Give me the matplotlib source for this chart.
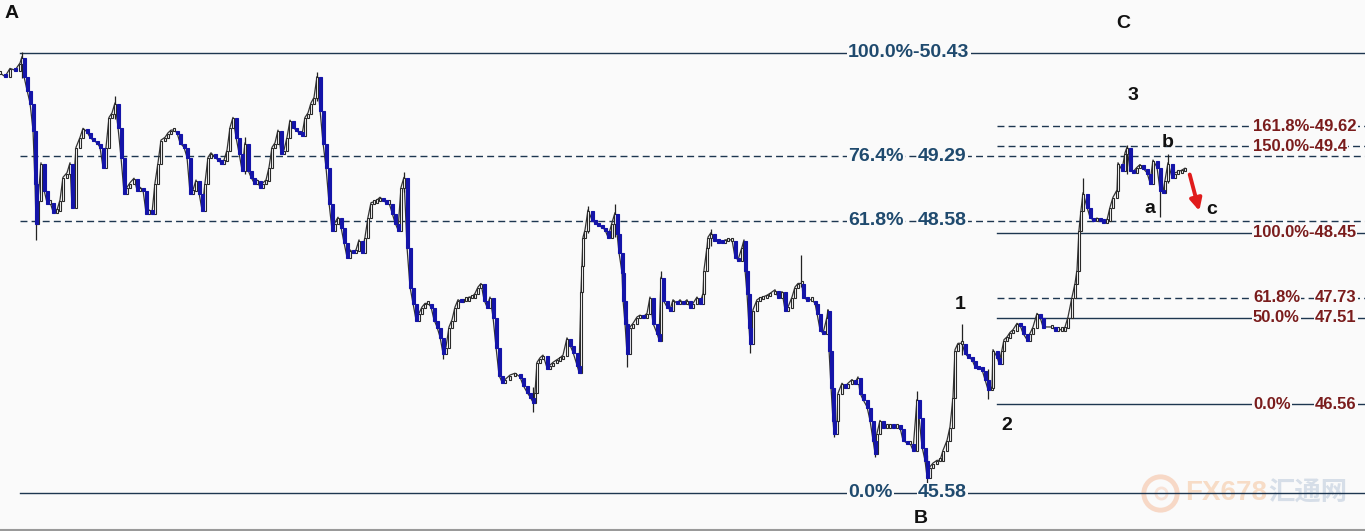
import matplotlib.pyplot as plt
import numpy as np

# bar time index (chart columns) and closing prices
t = [0, 5, 10, 15, 20, 22, 24, 27, 30, 33, 35, 36, 38, 41, 44, 47, 50, 53, 57, 60,
     63, 67, 70, 72, 76, 80, 83, 87, 90, 93, 97, 100, 103, 106, 109, 112, 115, 118, 121, 124,
     127, 130, 134, 137, 140, 143, 146, 149, 152, 155, 158, 161, 165, 168, 171, 174, 177, 180, 184, 187,
     190, 193, 196, 199, 202, 205, 208, 211, 215, 218, 221, 224, 227, 230, 233, 236, 239, 242, 245, 248,
     251, 254, 257, 260, 263, 266, 269, 272, 275, 278, 281, 284, 287, 290, 293, 296, 299, 302, 305, 308,
     311, 314, 317, 320, 323, 326, 329, 332, 335, 338, 341, 344, 347, 350, 353, 356, 359, 362, 365, 368,
     371, 374, 377, 380, 383, 386, 389, 392, 395, 398, 401, 404, 407, 410, 413, 416, 419, 422, 425, 428,
     431, 434, 437, 440, 443, 446, 449, 452, 455, 458, 461, 463, 466, 469, 472, 475, 478, 481, 484, 487,
     490, 493, 496, 499, 502, 505, 510, 515, 520, 523, 527, 530, 533, 535, 537, 540, 543, 547, 550, 553,
     557, 560, 563, 567, 570, 573, 577, 579, 581, 582, 583, 585, 588, 592, 595, 598, 602, 605, 608, 612,
     615, 617, 619, 622, 623, 625, 627, 630, 633, 637, 640, 643, 647, 650, 653, 657, 659, 661, 663, 667,
     670, 673, 677, 680, 683, 687, 690, 693, 697, 700, 703, 704, 707, 708, 711, 714, 718, 722, 725, 728,
     732, 735, 738, 742, 744, 745, 747, 749, 750, 753, 757, 760, 763, 767, 770, 775, 778, 782, 785, 788,
     792, 795, 798, 802, 803, 807, 812, 815, 817, 820, 823, 827, 828, 829, 831, 833, 834, 837, 838, 842,
     845, 848, 852, 855, 858, 860, 863, 867, 870, 873, 875, 877, 880, 883, 887, 890, 893, 897, 900, 903,
     907, 910, 913, 917, 919, 922, 925, 927, 930, 933, 937, 940, 943, 947, 950, 953, 955, 958, 962, 965,
     968, 972, 975, 978, 982, 985, 988, 992, 993, 997, 999, 1002, 1004, 1007, 1010, 1013, 1017, 1020, 1023, 1027,
     1030, 1033, 1037, 1040, 1043, 1052, 1055, 1058, 1062, 1065, 1068, 1072, 1075, 1077, 1079, 1081, 1083, 1087, 1090, 1093,
     1097, 1100, 1103, 1107, 1110, 1113, 1117, 1118, 1122, 1125, 1127, 1130, 1133, 1137, 1140, 1143, 1147, 1150, 1153, 1157,
     1160, 1163, 1165, 1168, 1172, 1175, 1178, 1182, 1185]

close = [50.21, 50.17, 50.26, 50.24, 50.32, 50.39, 50.17, 50.02, 49.88, 49.58, 49.00, 48.56, 48.81, 49.22, 48.92, 48.78, 48.79, 48.68, 48.70, 48.81,
         49.06, 49.11, 49.22, 48.73, 49.39, 49.50, 49.60, 49.56, 49.50, 49.47, 49.44, 49.39, 49.17, 49.39, 49.72, 49.77, 49.88, 49.61, 49.28, 48.89,
         48.95, 49.00, 49.05, 48.92, 48.95, 48.92, 48.67, 48.70, 48.67, 49.00, 49.22, 49.47, 49.50, 49.55, 49.58, 49.58, 49.55, 49.44, 49.39, 49.28,
         48.89, 48.92, 49.03, 48.89, 48.70, 49.00, 49.28, 49.33, 49.28, 49.25, 49.22, 49.25, 49.36, 49.61, 49.72, 49.50, 49.33, 49.14, 49.44, 49.14,
         49.06, 49.00, 49.03, 48.95, 49.00, 49.03, 49.17, 49.39, 49.44, 49.58, 49.33, 49.36, 49.50, 49.69, 49.61, 49.58, 49.55, 49.53, 49.72, 49.77,
         49.88, 49.94, 50.17, 49.80, 49.44, 49.17, 48.78, 48.48, 48.56, 48.62, 48.51, 48.34, 48.18, 48.26, 48.23, 48.26, 48.37, 48.23, 48.40, 48.62,
         48.78, 48.79, 48.81, 48.84, 48.81, 48.78, 48.78, 48.67, 48.56, 48.48, 48.95, 49.06, 48.29, 47.85, 47.67, 47.49, 47.56, 47.63, 47.67, 47.67,
         47.63, 47.49, 47.41, 47.30, 47.12, 47.19, 47.41, 47.49, 47.63, 47.71, 47.69, 47.71, 47.71, 47.74, 47.74, 47.78, 47.85, 47.89, 47.71, 47.63,
         47.74, 47.52, 47.19, 46.88, 46.80, 46.83, 46.88, 46.90, 46.86, 46.77, 46.69, 46.64, 46.58, 46.69, 47.02, 47.07, 47.10, 46.96, 46.99, 47.02,
         47.05, 47.07, 47.10, 47.29, 47.21, 47.13, 46.99, 46.91, 47.80, 48.09, 48.40, 48.48, 48.70, 48.59, 48.56, 48.53, 48.51, 48.48, 48.40, 48.56,
         48.67, 48.45, 48.23, 48.01, 47.71, 47.45, 47.12, 47.41, 47.45, 47.52, 47.54, 47.52, 47.56, 47.74, 47.45, 47.34, 47.27, 47.96, 47.71, 47.63,
         47.60, 47.71, 47.67, 47.71, 47.67, 47.71, 47.63, 47.67, 47.74, 47.67, 47.78, 48.04, 48.29, 48.40, 48.45, 48.37, 48.35, 48.34, 48.37, 48.37,
         48.37, 48.18, 48.15, 48.29, 48.37, 48.04, 47.78, 47.41, 47.23, 47.60, 47.71, 47.73, 47.74, 47.76, 47.78, 47.82, 47.74, 47.80, 47.60, 47.63,
         47.74, 47.85, 47.89, 47.89, 47.74, 47.71, 47.71, 47.67, 47.56, 47.38, 47.34, 47.52, 47.60, 47.16, 46.75, 46.38, 46.24, 46.38, 46.68, 46.79,
         46.75, 46.79, 46.83, 46.79, 46.86, 46.68, 46.61, 46.53, 46.38, 46.16, 46.02, 46.24, 46.38, 46.31, 46.31, 46.33, 46.31, 46.31, 46.30, 46.16,
         46.13, 46.13, 46.05, 46.61, 46.42, 46.09, 45.94, 45.76, 45.87, 45.91, 45.94, 45.94, 46.05, 46.16, 46.31, 46.64, 47.16, 47.23, 47.23, 47.12,
         47.08, 47.05, 46.97, 46.96, 46.94, 46.83, 46.72, 46.75, 47.16, 47.08, 47.01, 47.16, 47.27, 47.30, 47.35, 47.38, 47.45, 47.43, 47.34, 47.27,
         47.34, 47.41, 47.56, 47.52, 47.41, 47.41, 47.38, 47.38, 47.38, 47.41, 47.52, 47.74, 47.89, 48.04, 48.48, 48.70, 48.89, 48.73, 48.62, 48.59,
         48.61, 48.59, 48.57, 48.59, 48.73, 48.84, 48.92, 49.22, 49.14, 49.33, 49.39, 49.14, 49.12, 49.17, 49.20, 49.16, 49.11, 49.00, 49.25, 49.17,
         48.92, 48.90, 49.03, 49.22, 49.06, 49.11, 49.12, 49.14, 49.16]

# notable wicks (time, high, low)
wick_t = [22, 36, 115, 245, 317, 404, 443, 533, 588, 615, 627, 661, 711, 750, 801, 834, 875, 917, 927, 962, 988, 1083, 1127, 1160, 1168]
wick_hi = [50.44, 49.05, 49.96, 49.50, 50.22, 49.12, 47.25, 46.75, 48.74, 48.76, 47.50, 48.03, 48.49, 47.60, 48.20, 46.50, 46.30, 46.70, 46.00, 47.44, 46.95, 49.05, 49.42, 49.00, 49.32]
wick_lo = [50.15, 48.37, 49.70, 49.10, 49.90, 48.90, 47.06, 46.47, 48.45, 48.40, 46.97, 47.60, 48.30, 47.12, 47.85, 46.20, 45.98, 46.40, 45.69, 47.10, 46.62, 48.70, 49.10, 48.62, 49.00]

# Fibonacci levels: (label, price, dashed)
left_fib = [("100.0%", 50.43, False), ("76.4%", 49.29, True), ("61.8%", 48.58, True), ("0.0%", 45.58, False)]
right_fib = [("161.8%", 49.62, True), ("150.0%", 49.4, True), ("100.0%", 48.45, False),
             ("61.8%", 47.73, True), ("50.0%", 47.51, False), ("0.0%", 46.56, False)]
right_vals = ["49.62", "49.4", "48.45", "47.73", "47.51", "46.56"]

bg = "#fafafa"
navy = "#1d3650"
blue_lbl = "#1f4a6e"
red_lbl = "#7a1c1c"

fig = plt.figure(figsize=(13.65, 5.31), dpi=100, facecolor=bg)
ax = fig.add_axes([0, 0, 1, 1])
ax.set_facecolor(bg)
ax.set_xlim(0, 1365)
ax.set_ylim(45.161, 51.014)
ax.axis("off")

# fib lines
for name, lv, dashed in left_fib:
    ax.plot([20, 1365], [lv, lv], color=navy, lw=1.0, ls=(0, (5, 3)) if dashed else "-", zorder=1)
for name, lv, dashed in right_fib:
    ax.plot([997, 1365], [lv, lv], color=navy, lw=1.0, ls=(0, (5, 3)) if dashed else "-", zorder=1)

# candles: open = previous close
t = np.array(t)
close = np.array(close)
opn = np.concatenate([[close[0]], close[:-1]])
down = close < opn
up = ~down
lo = np.minimum(opn, close)
hgt = np.maximum(np.abs(close - opn), 0.035)

ax.plot(t, close, color="#333333", lw=0.9, zorder=2)
ax.vlines(wick_t, wick_lo, wick_hi, color="#222222", lw=0.9, zorder=2)
ax.bar(t[up], hgt[up], bottom=lo[up] - 0.01, width=2.6, color="white",
       edgecolor="#2a2a2a", lw=0.8, zorder=3)
ax.bar(t[down], hgt[down], bottom=lo[down] - 0.01, width=3.0, color="#1414a8",
       edgecolor="#1414a8", lw=0.8, zorder=4)

# fib labels
box = dict(facecolor=bg, edgecolor="none", pad=1.0)
fnt = "Liberation Sans"
ax.text(848, 50.43, "100.0%-50.43", color=blue_lbl, fontsize=14, fontweight="bold", family=fnt,
        va="center", ha="left", bbox=box, zorder=5)
for name, lv, dashed in left_fib[1:]:
    ax.text(848, lv, name, color=blue_lbl, fontsize=14, fontweight="bold", family=fnt,
            va="center", ha="left", bbox=box, zorder=5)
    ax.text(918, lv, "%.2f" % lv, color=blue_lbl, fontsize=14, fontweight="bold", family=fnt,
            va="center", ha="left", bbox=box, zorder=5)
for (name, lv, dashed), val in zip(right_fib, right_vals):
    if name in ("161.8%", "150.0%", "100.0%"):
        ax.text(1253, lv, name + "-" + val, color=red_lbl, fontsize=12, fontweight="bold", family=fnt,
                va="center", ha="left", bbox=box, zorder=5)
    else:
        ax.text(1253, lv, name, color=red_lbl, fontsize=12, fontweight="bold", family=fnt,
                va="center", ha="left", bbox=box, zorder=5)
        ax.text(1315, lv, val, color=red_lbl, fontsize=12, fontweight="bold", family=fnt,
                va="center", ha="left", bbox=box, zorder=5)

# wave labels
waves = [("A", 12, 50.87), ("C", 1123, 50.75), ("3", 1133, 49.96), ("b", 1168, 49.44),
         ("a", 1150, 48.72), ("c", 1212, 48.71), ("1", 960, 47.66), ("2", 1007, 46.32), ("B", 921, 45.30)]
for s, x, y in waves:
    ax.text(x, y, s, fontsize=14, fontweight="bold", family=fnt, color="#111111",
            ha="center", va="center", zorder=6)

ax.annotate("", xy=(1200, 48.66), xytext=(1189, 49.12),
            arrowprops=dict(arrowstyle="-|>,head_length=0.7,head_width=0.35", color="#e01b1b", lw=2.8),
            zorder=6)

# watermark
ax.plot([1160], [45.58], marker="o", ms=24, mfc="none", mec="#f7d8c6", mew=3.5, zorder=0)
ax.plot([1161], [45.58], marker="o", ms=8, mfc="none", mec="#f8e2d6", mew=2, zorder=0)
ax.text(1185, 45.58, "FX678", fontsize=20, fontweight="bold", family=fnt, color="#f7dcc6",
        ha="left", va="center", zorder=0)
ax.text(1268, 45.58, "汇通网", fontsize=19, fontweight="bold", family=["Noto Sans CJK SC", "DejaVu Sans"],
        color="#d6dee8", ha="left", va="center", zorder=0)

ax.axhline(45.175, color="#999999", lw=1.5)

fig.savefig("out.png", dpi=100, facecolor=bg)
